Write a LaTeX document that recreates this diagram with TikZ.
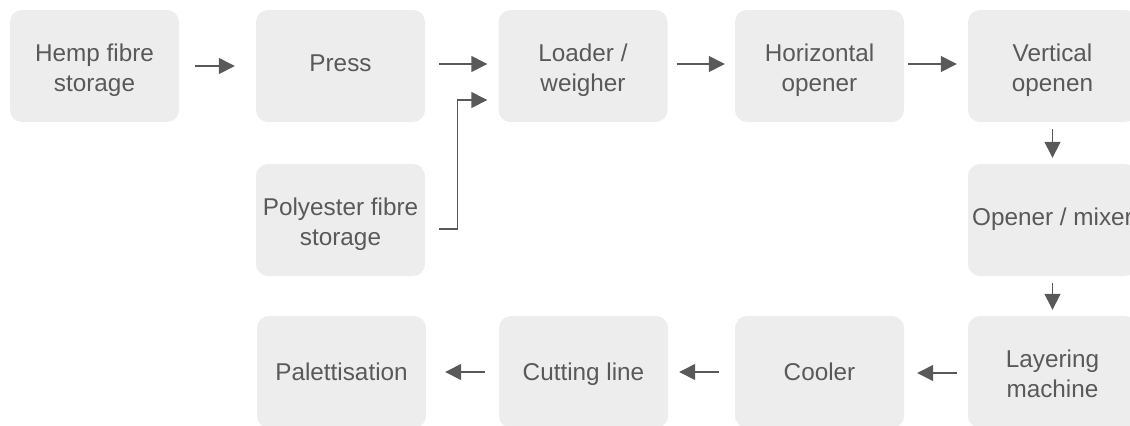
\documentclass[tikz,border=0pt]{standalone}
\usepackage{fontspec}
\setmainfont{Liberation Sans}
\usetikzlibrary{arrows.meta}
\definecolor{boxfill}{HTML}{EDEDED}
\definecolor{ink}{HTML}{595959}
\newcommand\twolines[2]{\raisebox{-4.5bp}[\height][\depth]{\begin{tabular}{@{}c@{}}#1\\#2\end{tabular}}}
\newcommand\lowone[1]{\raisebox{-2.5bp}[\height][\depth]{#1}}
\begin{document}
\begin{tikzpicture}[x=1bp,y=-1bp,
  box/.style={draw=none,fill=boxfill,rounded corners=12bp,minimum width=169bp,minimum height=112bp,
    inner sep=0pt,align=center,text=ink,font=\fontsize{24.3bp}{29.5bp}\selectfont,
    execute at begin node=\strut,execute at end node=\strut},
  arr/.style={draw=ink,line width=1.4bp,-{Triangle[length=16bp,width=16bp]}}]
\useasboundingbox (0,0) rectangle (1130,425);
% top row
\node[box] (hemp) at (94.5,66) {\twolines{Hemp fibre}{storage}};
\node[box] (press) at (340.5,66) {Press};
\node[box] (loader) at (583,66) {\twolines{Loader /}{weigher}};
\node[box] (horiz) at (819.5,66) {\twolines{Horizontal}{opener}};
\node[box] (vert) at (1052.5,66) {\twolines{Vertical}{openen}};
% middle row
\node[box] (poly) at (340.5,220) {\twolines{Polyester fibre}{storage}};
\node[box] (mixer) at (1052.5,220) {Opener / mixer};
% bottom row
\node[box] (layer) at (1052.5,372) {\twolines{Layering}{machine}};
\node[box] (cooler) at (819.5,372) {\lowone{Cooler}};
\node[box] (cut) at (583.5,372) {\lowone{Cutting line}};
\node[box] (pal) at (341.5,372) {\lowone{Palettisation}};
% arrows
\draw[arr,shorten <=16bp,shorten >=21bp] (hemp.east) -- (press.west);
\draw[arr,shorten <=14bp,shorten >=11bp] ([yshift=2bp]press.east) -- ([yshift=2bp]loader.west);
\draw[arr,shorten <=9bp,shorten >=10bp] ([yshift=2bp]loader.east) -- ([yshift=2bp]horiz.west);
\draw[arr,shorten <=4bp,shorten >=11bp] ([yshift=2bp]horiz.east) -- ([yshift=2bp]vert.west);
\draw[arr] ([xshift=14bp,yshift=-9bp]poly.east) -| ([xshift=-41bp,yshift=-34bp]loader.west) -- ([xshift=-11bp,yshift=-34bp]loader.west);
\draw[arr,shorten <=7bp,shorten >=6bp] (vert.south) -- (mixer.north);
\draw[arr,shorten <=7bp,shorten >=6bp] (mixer.south) -- (layer.north);
\draw[arr,shorten <=11bp,shorten >=13bp] ([yshift=-1bp]layer.west) -- ([yshift=-1bp]cooler.east);
\draw[arr,shorten <=16bp,shorten >=11bp] (cooler.west) -- (cut.east);
\draw[arr,shorten <=14bp,shorten >=19bp] (cut.west) -- (pal.east);
\end{tikzpicture}
\end{document}
